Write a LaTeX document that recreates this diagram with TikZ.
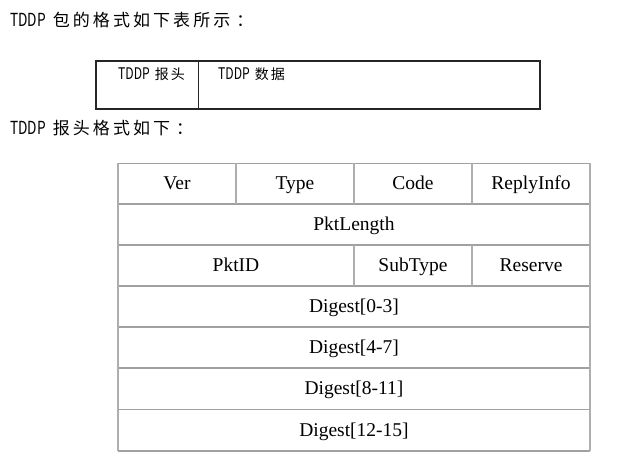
\documentclass[tikz,border=0pt]{standalone}
\usepackage{fontspec}
\setmainfont{Liberation Serif}
\newfontfamily\cjkfont[LetterSpace=18]{Noto Sans CJK SC}
\newfontfamily\cjksmall[LetterSpace=14]{Noto Sans CJK SC}
\newfontfamily\latnfont[FakeStretch=0.76]{Noto Sans CJK SC}
\definecolor{gridgray}{HTML}{A0A0A0}
\begin{document}
\begin{tikzpicture}[x=1pt,y=-1pt,
  caption/.style={anchor=base west,inner sep=0pt},
  cell/.style={anchor=base,inner sep=0pt,font=\fontsize{19.5}{22}\selectfont},
  hline/.style={draw=gridgray,line width=1.8pt},
  vline/.style={draw=gridgray!85,line width=1.1pt}]
\useasboundingbox (0,0) rectangle (641,468);

% headings
\node[caption] (t1) at (10,27)
  {{\fontsize{18}{20}\selectfont\latnfont TDDP}\hspace{7pt}{\fontsize{17}{20}\selectfont\cjkfont 包的格式如下表所示\hspace{6pt}：}};
\node[caption] (t2) at (10,135)
  {{\fontsize{18}{20}\selectfont\latnfont TDDP}\hspace{7pt}{\fontsize{17}{20}\selectfont\cjkfont 报头格式如下\hspace{6pt}：}};

% packet layout box
\draw[line width=1.3pt,black!85] (96,61) rectangle (540,109);
\draw[line width=1.3pt,black!85] (198.5,61) -- (198.5,109);
\node[caption] (hdr) at (118,80)
  {{\fontsize{16}{18}\selectfont\latnfont TDDP}\hspace{5pt}{\fontsize{14}{16}\selectfont\cjksmall 报头}};
\node[caption] (dat) at (218,80)
  {{\fontsize{16}{18}\selectfont\latnfont TDDP}\hspace{5pt}{\fontsize{14}{16}\selectfont\cjksmall 数据}};

% header field table
\foreach \y in {163.5,204,245,286,327,368,409.5,451}
  \draw[hline] (118,\y) -- (590,\y);
\draw[vline] (118,163.5) -- (118,451);
\draw[vline] (590,163.5) -- (590,451);
\draw[vline] (236,163.5) -- (236,204);
\draw[vline] (354,163.5) -- (354,204);
\draw[vline] (472,163.5) -- (472,204);
\draw[vline] (354,245) -- (354,286);
\draw[vline] (472,245) -- (472,286);

\node[cell] (ver)   at (177,189.5) {Ver};
\node[cell] (type)  at (295,189.5) {Type};
\node[cell] (code)  at (413,189.5) {Code};
\node[cell] (reply) at (531,189.5) {ReplyInfo};
\node[cell] (len)   at (354,230.5) {PktLength};
\node[cell] (pid)   at (236,271.5) {PktID};
\node[cell] (sub)   at (413,271.5) {SubType};
\node[cell] (res)   at (531,271.5) {Reserve};
\node[cell] (d0)    at (354,312.5) {Digest[0-3]};
\node[cell] (d1)    at (354,353.5) {Digest[4-7]};
\node[cell] (d2)    at (354,394.5) {Digest[8-11]};
\node[cell] (d3)    at (354,436)   {Digest[12-15]};
\end{tikzpicture}
\end{document}
